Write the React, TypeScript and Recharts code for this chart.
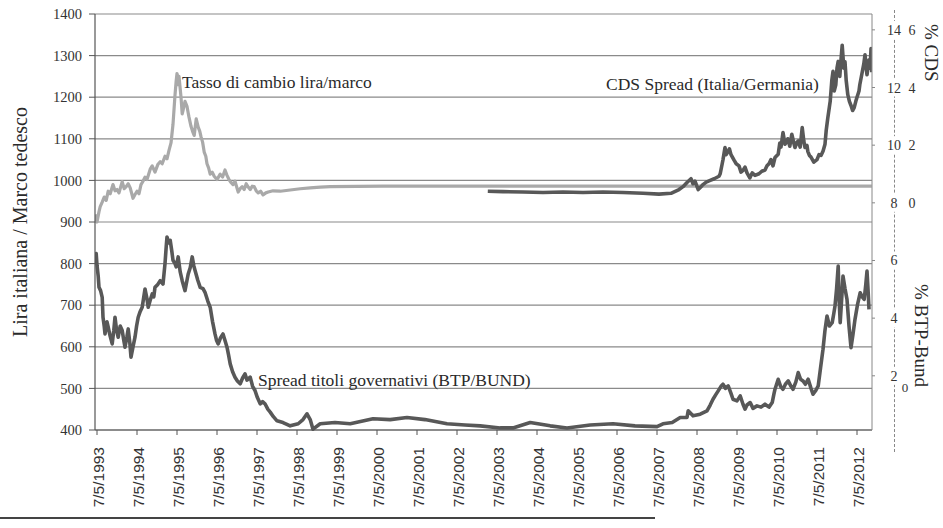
import React from 'react'
import {
  ComposedChart, Line, XAxis, YAxis, CartesianGrid,
} from 'recharts'

// [anno, valore sulla scala lira/marco]
const cambio: [number, number][] = [
  [1993.3, 918], [1993.33, 908], [1993.35, 900], [1993.4, 925], [1993.43, 937], [1993.48, 948],
  [1993.53, 960], [1993.58, 952], [1993.63, 974], [1993.68, 968], [1993.75, 990], [1993.8, 975],
  [1993.85, 978], [1993.9, 970], [1993.98, 997], [1994.03, 980], [1994.08, 985], [1994.13, 992],
  [1994.18, 982], [1994.25, 957], [1994.3, 966], [1994.35, 974], [1994.4, 968], [1994.45, 990],
  [1994.5, 998], [1994.55, 1008], [1994.6, 1002], [1994.68, 1027], [1994.73, 1035], [1994.8, 1020],
  [1994.87, 1038], [1994.93, 1045], [1994.98, 1040], [1995.05, 1058], [1995.1, 1052], [1995.15, 1072],
  [1995.2, 1090], [1995.25, 1135], [1995.3, 1205], [1995.33, 1240], [1995.35, 1257], [1995.38, 1230],
  [1995.4, 1250], [1995.45, 1200], [1995.48, 1160], [1995.5, 1168], [1995.55, 1190], [1995.6, 1178],
  [1995.63, 1162], [1995.65, 1152], [1995.7, 1130], [1995.74, 1118], [1995.78, 1108], [1995.83, 1148],
  [1995.88, 1128], [1995.92, 1118], [1995.95, 1105], [1995.99, 1092], [1996.03, 1068], [1996.07, 1058],
  [1996.1, 1040], [1996.14, 1030], [1996.18, 1015], [1996.23, 1020], [1996.28, 1010], [1996.35, 1002],
  [1996.43, 1015], [1996.49, 1008], [1996.55, 1025], [1996.6, 1012], [1996.65, 1002], [1996.7, 995],
  [1996.75, 990], [1996.8, 998], [1996.88, 972], [1996.93, 980], [1996.98, 985], [1997.03, 978],
  [1997.08, 992], [1997.13, 984], [1997.18, 978], [1997.23, 986], [1997.28, 985], [1997.33, 975],
  [1997.38, 970], [1997.44, 974], [1997.5, 965], [1997.57, 970], [1997.63, 972], [1997.75, 975],
  [1997.93, 974], [1998.18, 977], [1998.43, 980], [1998.68, 982], [1998.93, 984], [1999.18, 985],
  [2000.5, 986], [2003.0, 986], [2006.0, 986], [2009.0, 986], [2012.72, 986],
]

const cds: [number, number][] = [
  [2003.12, 974], [2003.5, 973], [2004.0, 972], [2004.5, 971], [2005.0, 972],
  [2005.5, 971], [2006.0, 972], [2006.5, 971], [2007.0, 969], [2007.4, 967],
  [2007.7, 969], [2007.9, 978], [2008.0, 985], [2008.1, 995], [2008.2, 1004], [2008.25, 992],
  [2008.3, 998], [2008.38, 978], [2008.45, 985], [2008.5, 990], [2008.58, 996], [2008.68, 1000],
  [2008.78, 1004], [2008.9, 1010], [2008.93, 1016], [2008.98, 1040], [2009.0, 1050], [2009.05, 1079],
  [2009.08, 1062], [2009.12, 1068], [2009.16, 1076], [2009.2, 1062], [2009.28, 1048], [2009.33, 1040],
  [2009.4, 1035], [2009.45, 1020], [2009.5, 1024], [2009.55, 1032], [2009.6, 1018], [2009.67, 1006],
  [2009.73, 1018], [2009.8, 1012], [2009.9, 1016], [2009.97, 1022], [2010.05, 1025], [2010.1, 1035],
  [2010.15, 1040], [2010.2, 1050], [2010.25, 1035], [2010.3, 1055], [2010.38, 1063], [2010.42, 1090],
  [2010.45, 1080], [2010.5, 1115], [2010.55, 1087], [2010.6, 1094], [2010.62, 1100], [2010.67, 1082],
  [2010.72, 1111], [2010.77, 1090], [2010.8, 1079], [2010.85, 1092], [2010.88, 1095], [2010.93, 1080],
  [2010.98, 1127], [2011.02, 1095], [2011.05, 1079], [2011.1, 1084], [2011.12, 1070], [2011.16, 1060],
  [2011.2, 1056], [2011.27, 1044], [2011.35, 1050], [2011.4, 1062], [2011.45, 1060], [2011.5, 1070],
  [2011.55, 1087], [2011.58, 1120], [2011.62, 1150], [2011.68, 1190], [2011.72, 1240], [2011.75, 1262],
  [2011.78, 1215], [2011.82, 1230], [2011.85, 1270], [2011.88, 1286], [2011.92, 1250], [2011.95, 1290],
  [2011.98, 1325], [2012.02, 1270], [2012.05, 1285], [2012.08, 1240], [2012.12, 1206], [2012.16, 1190],
  [2012.2, 1180], [2012.24, 1168], [2012.28, 1175], [2012.32, 1190], [2012.35, 1200], [2012.4, 1215],
  [2012.42, 1230], [2012.45, 1245], [2012.48, 1260], [2012.52, 1280], [2012.55, 1302], [2012.58, 1270],
  [2012.6, 1254], [2012.63, 1275], [2012.65, 1290], [2012.68, 1270], [2012.7, 1317], [2012.72, 1260],
]

const btpBund: [number, number][] = [
  [1993.3, 810], [1993.33, 824], [1993.35, 796], [1993.38, 770], [1993.4, 743], [1993.44, 735],
  [1993.48, 719], [1993.5, 671], [1993.53, 650], [1993.55, 631], [1993.6, 660], [1993.63, 647],
  [1993.68, 625], [1993.73, 607], [1993.77, 640], [1993.8, 671], [1993.84, 640], [1993.88, 623],
  [1993.93, 650], [1993.98, 639], [1994.02, 615], [1994.05, 599], [1994.1, 625], [1994.13, 643],
  [1994.17, 610], [1994.2, 575], [1994.25, 600], [1994.3, 623], [1994.34, 650], [1994.38, 671],
  [1994.43, 685], [1994.48, 695], [1994.52, 720], [1994.55, 739], [1994.6, 715], [1994.63, 695],
  [1994.68, 712], [1994.73, 727], [1994.77, 720], [1994.8, 743], [1994.87, 750], [1994.93, 759],
  [1995.0, 751], [1995.05, 800], [1995.08, 840], [1995.1, 864], [1995.14, 850], [1995.18, 856],
  [1995.22, 830], [1995.25, 808], [1995.3, 800], [1995.33, 792], [1995.38, 816], [1995.43, 780],
  [1995.48, 759], [1995.52, 745], [1995.55, 735], [1995.6, 760], [1995.63, 775], [1995.68, 790],
  [1995.73, 816], [1995.77, 795], [1995.8, 784], [1995.87, 760], [1995.93, 743], [1996.0, 740],
  [1996.05, 731], [1996.12, 710], [1996.18, 695], [1996.24, 660], [1996.3, 631], [1996.34, 615],
  [1996.38, 607], [1996.44, 622], [1996.5, 631], [1996.55, 615], [1996.6, 599], [1996.64, 580],
  [1996.68, 559], [1996.74, 540], [1996.8, 527], [1996.86, 518], [1996.93, 511], [1996.99, 525],
  [1997.05, 535], [1997.1, 520], [1997.18, 527], [1997.24, 505], [1997.3, 495], [1997.36, 478],
  [1997.43, 463], [1997.49, 468], [1997.55, 463], [1997.62, 450], [1997.68, 443], [1997.76, 432],
  [1997.85, 422], [1998.0, 418], [1998.18, 410], [1998.38, 415], [1998.5, 425], [1998.6, 439],
  [1998.68, 425], [1998.75, 402], [1998.93, 415], [1999.3, 418], [1999.68, 415], [2000.25, 427],
  [2000.68, 425], [2001.1, 430], [2001.55, 425], [2002.1, 415], [2002.55, 412], [2002.93, 410],
  [2003.43, 405], [2003.75, 405], [2004.18, 418], [2004.68, 410], [2005.1, 405], [2005.68, 412],
  [2006.25, 415], [2006.8, 410], [2007.35, 408], [2007.5, 415], [2007.73, 418], [2007.93, 430],
  [2008.1, 430], [2008.13, 446], [2008.25, 434], [2008.43, 438], [2008.6, 446], [2008.68, 460],
  [2008.75, 474], [2008.82, 485], [2008.88, 494], [2008.95, 505], [2009.0, 510], [2009.06, 500],
  [2009.13, 506], [2009.2, 488], [2009.25, 474], [2009.35, 470], [2009.43, 482], [2009.5, 462],
  [2009.55, 450], [2009.6, 460], [2009.68, 466], [2009.75, 452], [2009.85, 458], [2009.95, 455],
  [2010.05, 462], [2010.15, 455], [2010.23, 466], [2010.27, 485], [2010.3, 498], [2010.34, 510],
  [2010.38, 522], [2010.44, 505], [2010.5, 498], [2010.56, 510], [2010.63, 518], [2010.7, 505],
  [2010.75, 498], [2010.82, 515], [2010.88, 538], [2010.94, 522], [2011.0, 518], [2011.06, 510],
  [2011.13, 522], [2011.2, 500], [2011.25, 486], [2011.32, 495], [2011.38, 506], [2011.44, 550],
  [2011.5, 594], [2011.55, 640], [2011.6, 674], [2011.66, 650], [2011.73, 658], [2011.77, 680],
  [2011.8, 698], [2011.84, 740], [2011.88, 794], [2011.9, 720], [2011.93, 658], [2011.97, 720],
  [2012.0, 770], [2012.05, 740], [2012.1, 714], [2012.15, 650], [2012.2, 598], [2012.25, 630],
  [2012.3, 666], [2012.36, 700], [2012.43, 730], [2012.48, 720], [2012.53, 714], [2012.57, 750],
  [2012.6, 782], [2012.63, 730], [2012.65, 690],
]

const yearTicks = [
  1993.35, 1994.35, 1995.35, 1996.35, 1997.35, 1998.35, 1999.35, 2000.35, 2001.35, 2002.35,
  2003.35, 2004.35, 2005.35, 2006.35, 2007.35, 2008.35, 2009.35, 2010.35, 2011.35, 2012.35,
]
const leftTicks = [400, 500, 600, 700, 800, 900, 1000, 1100, 1200, 1300, 1400]
const rightTicks = [2, 4, 6, 8, 10, 12, 14]
const cdsSecond: Record<number, string> = { 14: '6', 12: '4', 10: '2', 8: '0' }

const toRows = (arr: [number, number][]) => arr.map(([t, v]) => ({ t, v }))

const SERIF = '"Liberation Serif", "DejaVu Serif", serif'
const SANS = '"Liberation Sans", Arial, sans-serif'
const INK = '#555'
const DARK = '#585858'

function DateTick({ x, y, payload }: any) {
  const yr = Math.floor(payload.value)
  return (
    <text
      transform={`translate(${x + 7},${y + 10}) rotate(-90)`}
      textAnchor="end"
      fontFamily={SANS}
      fontSize={15.5}
      fill="#333"
    >
      {`7/5/${yr}`}
    </text>
  )
}

function RightTick({ x, y, payload }: any) {
  const v = payload.value
  const second = cdsSecond[v]
  return (
    <g>
      <rect x={x + 11} y={y - 9} width={17} height={18} fill="#fff" />
      <text x={x + 19} y={y + 5} textAnchor="middle" fontFamily={SERIF} fontSize={14} fill="#333">{v}</text>
      {second && (
        <text x={x + 37} y={y + 5} textAnchor="middle" fontFamily={SERIF} fontSize={14} fill="#333">{second}</text>
      )}
      {v === 2 && (
        <text x={x + 30} y={y + 16} textAnchor="middle" fontFamily={SERIF} fontSize={13} fill="#333">0</text>
      )}
    </g>
  )
}

export default function App() {
  return (
    <div style={{ position: 'absolute', left: 0, top: 0, width: 943, height: 528, background: '#fff', overflow: 'hidden' }}>
      {/* asse destro tratteggiato */}
      <div style={{ position: 'absolute', left: 894, top: 10, height: 442, borderLeft: '1.5px dashed #888' }} />
      {/* riga di pagina */}
      <div style={{ position: 'absolute', left: 0, top: 517, width: 655, borderTop: '2px solid #444' }} />

      <div style={{ position: 'absolute', left: 0, top: 0 }}>
        <ComposedChart width={943} height={528} margin={{ top: 14, right: 0, bottom: 0, left: 0 }}>
          <CartesianGrid vertical={false} stroke="#8a8a8a" strokeWidth={1.2} yAxisId="left" />
          <XAxis
            dataKey="t"
            type="number"
            domain={[1993.3, 2012.725]}
            ticks={yearTicks}
            interval={0}
            allowDataOverflow
            height={98}
            tick={<DateTick />}
            tickSize={5}
            axisLine={{ stroke: INK, strokeWidth: 1.2 }}
            tickLine={{ stroke: INK }}
          />
          <YAxis
            yAxisId="left"
            domain={[400, 1400]}
            ticks={leftTicks}
            interval={0}
            width={95}
            tickSize={6}
            tickMargin={7}
            tick={{ fontFamily: SERIF, fontSize: 14.5, fill: '#333' }}
            axisLine={{ stroke: INK, strokeWidth: 1.2 }}
            tickLine={{ stroke: INK }}
          />
          <YAxis
            yAxisId="right"
            orientation="right"
            domain={[0.12, 14.55]}
            allowDataOverflow
            ticks={rightTicks}
            interval={0}
            width={71}
            tickSize={3}
            tickMargin={0}
            tick={<RightTick />}
            axisLine={{ stroke: '#888', strokeWidth: 1 }}
            tickLine={{ stroke: '#888' }}
          />
          <Line
            yAxisId="left"
            data={toRows(cambio)}
            dataKey="v"
            type="linear"
            stroke="#a9a9a9"
            strokeWidth={3.2}
            strokeLinejoin="round"
            dot={false}
            isAnimationActive={false}
          />
          <Line
            yAxisId="left"
            data={toRows(cds)}
            dataKey="v"
            type="linear"
            stroke={DARK}
            strokeWidth={3.6}
            strokeLinejoin="round"
            dot={false}
            isAnimationActive={false}
          />
          <Line
            yAxisId="left"
            data={toRows(btpBund)}
            dataKey="v"
            type="linear"
            stroke={DARK}
            strokeWidth={3.6}
            strokeLinejoin="round"
            dot={false}
            isAnimationActive={false}
          />
        </ComposedChart>
      </div>

      <svg width={943} height={528} style={{ position: 'absolute', left: 0, top: 0, pointerEvents: 'none' }}>
        <g fontFamily={SERIF} fill="#2a2a2a">
          <text x={182} y={88} fontSize={17.5}>Tasso di cambio lira/marco</text>
          <text x={606} y={90} fontSize={17.5}>CDS Spread (Italia/Germania)</text>
          <text x={258} y={386} fontSize={17.5}>Spread titoli governativi (BTP/BUND)</text>
          <text transform="translate(27,222) rotate(-90)" textAnchor="middle" fontSize={20}>
            Lira italiana / Marco tedesco
          </text>
          <text transform="translate(925,24) rotate(90)" fontSize={19}>% CDS</text>
          <text transform="translate(915,284) rotate(90)" fontSize={19}>% BTP-Bund</text>
        </g>
      </svg>
    </div>
  )
}
